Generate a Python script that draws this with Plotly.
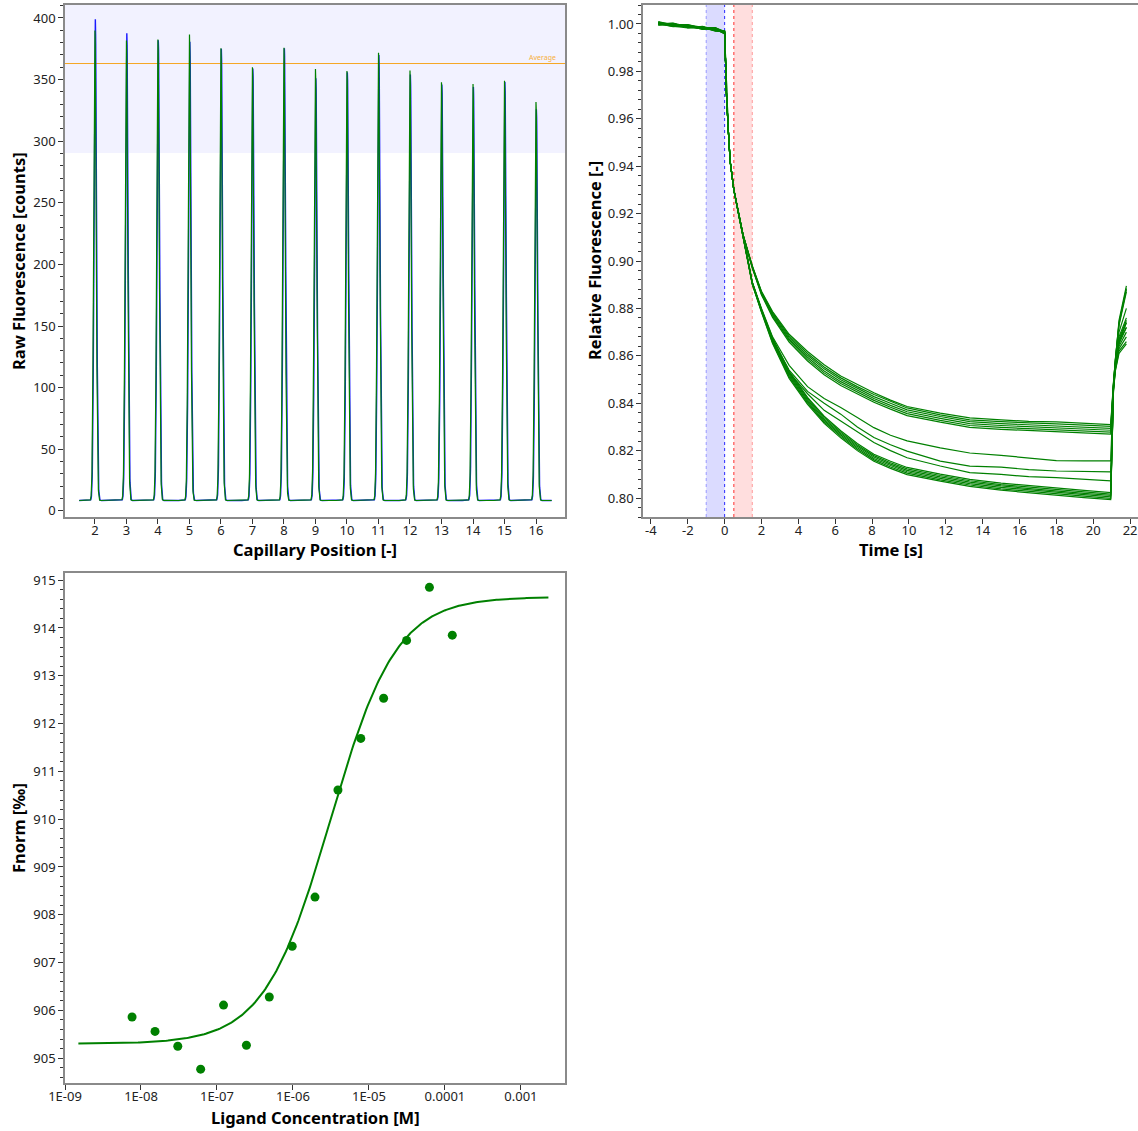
import numpy as np
import plotly.graph_objects as go

# ---------------- Panel 1: capillary scan ----------------
CAP_POSITIONS = [2, 3, 4, 5, 6, 7, 8, 9, 10, 11, 12, 13, 14, 15, 16]
PEAKS_GREEN = [390, 381.6, 382.7, 386.7, 375.4, 360, 376, 358.6, 357, 371.9, 357.3, 348, 346.4, 349, 331.8]
PEAKS_BLUE = [399, 387.5, 382, 380.8, 375, 359, 375.5, 351, 356, 370, 354, 346, 344, 348, 326]
BASELINE = 8.4
AVERAGE = 363
SCAN_START, SCAN_END = 1.5, 16.5

# ---------------- Panel 2: MST traces ----------------
PRE_TIMES = [-3.6, -2.8, -2.0, -1.2, -0.5, 0.0]
PRE_VALUES = [
    [1.0008, 0.9992, 0.9995, 0.9979, 0.9983, 0.9962],
    [0.9997, 1.0001, 0.9986, 0.9988, 0.9972, 0.9970],
    [1.0005, 0.9990, 0.9994, 0.9977, 0.9981, 0.9958],
    [0.9999, 1.0003, 0.9984, 0.9990, 0.9975, 0.9967],
    [1.0010, 0.9995, 0.9997, 0.9981, 0.9985, 0.9964],
    [0.9996, 0.9999, 0.9987, 0.9985, 0.9970, 0.9971],
    [1.0004, 0.9993, 0.9992, 0.9980, 0.9979, 0.9960],
    [1.0001, 1.0004, 0.9989, 0.9987, 0.9976, 0.9968],
    [0.9998, 0.9991, 0.9983, 0.9982, 0.9973, 0.9963],
    [1.0007, 0.9998, 0.9996, 0.9986, 0.9984, 0.9969],
    [1.0002, 0.9989, 0.9991, 0.9978, 0.9980, 0.9959],
    [0.9995, 1.0002, 0.9985, 0.9989, 0.9971, 0.9966],
    [1.0006, 0.9994, 0.9993, 0.9983, 0.9977, 0.9961],
    [1.0000, 0.9997, 0.9988, 0.9984, 0.9974, 0.9965],
    [1.0003, 1.0000, 0.9990, 0.9980, 0.9982, 0.9967],
]
DROP_TIMES = [0.05, 0.1, 0.2, 0.3, 0.5, 0.8, 1.0]
DROP_VALUES = [0.984, 0.970, 0.955, 0.942, 0.930, 0.918, 0.911]
TAIL_TIMES = [1.5, 2.0, 2.6, 3.5, 4.5, 5.4, 6.3, 7.2, 8.1, 9.0, 9.9, 11.7, 13.3, 15.0, 16.5, 18.0, 19.5, 20.95, 21.1, 21.2, 21.4, 21.8]
TAIL_VALUES = [
    [0.8980, 0.8872, 0.8787, 0.8691, 0.8618, 0.8562, 0.8515, 0.8478, 0.8444, 0.8413, 0.8386, 0.8358, 0.8338, 0.8330, 0.8323, 0.8321, 0.8316, 0.8310, 0.8490, 0.8590, 0.8750, 0.8895],
    [0.8978, 0.8869, 0.8782, 0.8684, 0.8610, 0.8553, 0.8507, 0.8470, 0.8437, 0.8407, 0.8380, 0.8351, 0.8330, 0.8322, 0.8316, 0.8313, 0.8308, 0.8302, 0.8485, 0.8585, 0.8740, 0.8885],
    [0.8976, 0.8866, 0.8777, 0.8678, 0.8602, 0.8545, 0.8499, 0.8463, 0.8428, 0.8400, 0.8372, 0.8344, 0.8322, 0.8314, 0.8309, 0.8306, 0.8300, 0.8294, 0.8482, 0.8582, 0.8735, 0.8880],
    [0.8974, 0.8863, 0.8772, 0.8671, 0.8594, 0.8536, 0.8491, 0.8456, 0.8420, 0.8391, 0.8364, 0.8336, 0.8314, 0.8306, 0.8301, 0.8298, 0.8292, 0.8286, 0.8478, 0.8578, 0.8728, 0.8870],
    [0.8972, 0.8860, 0.8767, 0.8665, 0.8586, 0.8528, 0.8483, 0.8448, 0.8412, 0.8383, 0.8356, 0.8328, 0.8306, 0.8298, 0.8293, 0.8290, 0.8284, 0.8278, 0.8475, 0.8560, 0.8680, 0.8760],
    [0.8970, 0.8857, 0.8762, 0.8658, 0.8578, 0.8520, 0.8475, 0.8440, 0.8404, 0.8375, 0.8348, 0.8320, 0.8298, 0.8290, 0.8285, 0.8282, 0.8276, 0.8270, 0.8472, 0.8555, 0.8670, 0.8750],
    [0.8912, 0.8800, 0.8680, 0.8560, 0.8470, 0.8420, 0.8382, 0.8340, 0.8297, 0.8265, 0.8241, 0.8212, 0.8190, 0.8180, 0.8168, 0.8158, 0.8157, 0.8157, 0.8480, 0.8570, 0.8700, 0.8800],
    [0.8910, 0.8790, 0.8670, 0.8540, 0.8450, 0.8400, 0.8354, 0.8300, 0.8255, 0.8225, 0.8198, 0.8156, 0.8135, 0.8130, 0.8120, 0.8114, 0.8112, 0.8110, 0.8470, 0.8560, 0.8660, 0.8740],
    [0.8909, 0.8790, 0.8670, 0.8530, 0.8440, 0.8370, 0.8325, 0.8280, 0.8234, 0.8200, 0.8170, 0.8135, 0.8107, 0.8100, 0.8090, 0.8086, 0.8080, 0.8072, 0.8470, 0.8560, 0.8660, 0.8720],
    [0.8908, 0.8796, 0.8676, 0.8534, 0.8425, 0.8345, 0.8284, 0.8230, 0.8185, 0.8155, 0.8129, 0.8101, 0.8079, 0.8063, 0.8052, 0.8044, 0.8032, 0.8023, 0.8465, 0.8560, 0.8660, 0.8740],
    [0.8907, 0.8794, 0.8671, 0.8528, 0.8419, 0.8339, 0.8278, 0.8224, 0.8179, 0.8149, 0.8123, 0.8095, 0.8073, 0.8057, 0.8046, 0.8038, 0.8026, 0.8017, 0.8462, 0.8555, 0.8650, 0.8720],
    [0.8906, 0.8791, 0.8666, 0.8523, 0.8413, 0.8333, 0.8272, 0.8218, 0.8173, 0.8143, 0.8117, 0.8089, 0.8067, 0.8051, 0.8040, 0.8032, 0.8020, 0.8011, 0.8460, 0.8550, 0.8640, 0.8700],
    [0.8904, 0.8789, 0.8661, 0.8517, 0.8407, 0.8327, 0.8266, 0.8212, 0.8167, 0.8137, 0.8111, 0.8083, 0.8061, 0.8045, 0.8034, 0.8026, 0.8014, 0.8005, 0.8458, 0.8545, 0.8630, 0.8680],
    [0.8903, 0.8786, 0.8656, 0.8511, 0.8401, 0.8321, 0.8260, 0.8206, 0.8161, 0.8131, 0.8105, 0.8077, 0.8055, 0.8039, 0.8028, 0.8020, 0.8008, 0.7999, 0.8455, 0.8540, 0.8620, 0.8660],
    [0.8902, 0.8784, 0.8652, 0.8505, 0.8395, 0.8315, 0.8254, 0.8200, 0.8155, 0.8125, 0.8099, 0.8071, 0.8049, 0.8033, 0.8022, 0.8014, 0.8002, 0.7993, 0.8452, 0.8535, 0.8610, 0.8650],
]
COLD_REGION = (-1.0, 0.0)
HOT_REGION = (0.5, 1.5)
TIME_TICKVALS = [-4, -2, 0, 2, 4, 6, 8, 10, 12, 14, 16, 18, 20, 22]
TIME_TICKTEXT = ["-4", "-2", "0", "2", "4", "6", "8", "10", "12", "14", "16", "18", "20", "22"]

# ---------------- Panel 3: dose response ----------------
LIGAND_CONC = [7.63e-9, 1.53e-8, 3.05e-8, 6.10e-8, 1.22e-7, 2.44e-7, 4.88e-7, 9.77e-7,
               1.95e-6, 3.91e-6, 7.81e-6, 1.56e-5, 3.13e-5, 6.25e-5, 1.25e-4]
FNORM = [905.86, 905.56, 905.25, 904.77, 906.11, 905.27, 906.28, 907.34,
         908.37, 910.61, 911.69, 912.53, 913.74, 914.85, 913.85]
FIT_UNBOUND = 905.3
FIT_BOUND = 914.65
FIT_KD = 3.1e-6
FIT_RANGE = (1.5e-9, 2.3e-3)

LOG_TICKVALS = [1e-9, 1e-8, 1e-7, 1e-6, 1e-5, 1e-4, 1e-3]
LOG_TICKTEXT = ["1E-09", "1E-08", "1E-07", "1E-06", "1E-05", "0.0001", "0.001"]

# ---------------- figure ----------------
W, H = 1138, 1131
FONT = "Noto Sans"
TICK_FONT = dict(family=FONT, size=13, color="#222")
TITLE_FONT = dict(family=FONT, size=16.5, color="#000")
GREEN = "#008000"

fig = go.Figure()

# panel 1 traces
xs = np.arange(SCAN_START, SCAN_END, 0.003)
def scan(heights, shift):
    y = np.full_like(xs, BASELINE)
    for p, h in zip(CAP_POSITIONS, heights):
        y += (h - BASELINE) * np.exp(-0.5 * ((xs - p - shift) / 0.04) ** 2)
    return y

fig.add_trace(go.Scatter(x=xs, y=scan(PEAKS_BLUE, 0.012), mode="lines",
                         line=dict(color="#1a1aff", width=1.4), xaxis="x", yaxis="y", showlegend=False))
fig.add_trace(go.Scatter(x=xs, y=scan(PEAKS_GREEN, 0.0), mode="lines",
                         line=dict(color=GREEN, width=1.2), xaxis="x", yaxis="y", showlegend=False))

# panel 2 traces
for pre, tail in zip(PRE_VALUES, TAIL_VALUES):
    t = PRE_TIMES + DROP_TIMES + TAIL_TIMES
    v = pre + DROP_VALUES + tail
    fig.add_trace(go.Scatter(x=t, y=v, mode="lines", line=dict(color=GREEN, width=1.2),
                             xaxis="x2", yaxis="y2", showlegend=False))

# panel 3
cfit = np.logspace(np.log10(FIT_RANGE[0]), np.log10(FIT_RANGE[1]), 300)
ffit = FIT_UNBOUND + (FIT_BOUND - FIT_UNBOUND) * cfit / (cfit + FIT_KD)
fig.add_trace(go.Scatter(x=cfit, y=ffit, mode="lines", line=dict(color=GREEN, width=2),
                         xaxis="x3", yaxis="y3", showlegend=False))
fig.add_trace(go.Scatter(x=LIGAND_CONC, y=FNORM, mode="markers",
                         marker=dict(color=GREEN, size=9), xaxis="x3", yaxis="y3", showlegend=False))

def px_x(p):
    return min(max(p / W, 0.0), 1.0)
def px_y(p):
    return min(max(1 - p / H, 0.0), 1.0)

AX_LINE = dict(showline=True, linecolor="#8a8a8a", linewidth=1.5, mirror=True,
               ticks="outside", ticklen=5, tickcolor="#333", tickfont=TICK_FONT,
               showgrid=False, zeroline=False, automargin=False)
X_LABEL = dict(ticklabelstandoff=-4)

Y1_RANGE = [-5, 410.5]
fig.update_layout(
    width=W, height=H, margin=dict(l=0, r=0, t=0, b=0),
    plot_bgcolor="white", paper_bgcolor="white",
    xaxis=dict(domain=[px_x(65), px_x(565)], anchor="y", range=[1.05, 16.92],
               tickvals=CAP_POSITIONS, **AX_LINE, **X_LABEL),
    yaxis=dict(domain=[px_y(517), px_y(5)], anchor="x", range=Y1_RANGE, dtick=50, tick0=0,
               minor=dict(dtick=10, ticklen=3, ticks="outside", tickcolor="#333"), **AX_LINE),
    xaxis2=dict(domain=[px_x(643), 1.0], anchor="y2", range=[-4.43, 22.43],
                tickvals=TIME_TICKVALS, ticktext=TIME_TICKTEXT, **AX_LINE, **X_LABEL),
    yaxis2=dict(domain=[px_y(517), px_y(5)], anchor="x2", range=[0.792, 1.008], dtick=0.02, tick0=0,
                tickformat=".2f",
                minor=dict(dtick=0.004, ticklen=3, ticks="outside", tickcolor="#333"), **AX_LINE),
    xaxis3=dict(domain=[px_x(65), px_x(565)], anchor="y3", type="log", range=[-9, -2.42],
                tickvals=LOG_TICKVALS, ticktext=LOG_TICKTEXT, **AX_LINE, **X_LABEL),
    yaxis3=dict(domain=[px_y(1083), px_y(573)], anchor="x3", range=[904.48, 915.15], dtick=1, tick0=0,
                minor=dict(dtick=0.2, ticklen=3, ticks="outside", tickcolor="#333"), **AX_LINE),
)

shapes = []
# panel 1: tolerance band and average line
shapes.append(dict(type="rect", xref="x domain", yref="y", x0=0, x1=1,
                   y0=AVERAGE * 0.8, y1=min(AVERAGE * 1.2, Y1_RANGE[1]),
                   fillcolor="rgba(0,0,255,0.05)", line=dict(width=0), layer="below"))
shapes.append(dict(type="line", xref="x domain", yref="y", x0=0, x1=1, y0=AVERAGE, y1=AVERAGE,
                   line=dict(color="#f5a623", width=1), layer="below"))
# panel 2: cold / hot regions
shapes.append(dict(type="rect", xref="x2", yref="y2 domain", x0=COLD_REGION[0], x1=COLD_REGION[1],
                   y0=0, y1=1, fillcolor="rgba(0,0,255,0.14)", line=dict(width=0), layer="below"))
shapes.append(dict(type="rect", xref="x2", yref="y2 domain", x0=HOT_REGION[0], x1=HOT_REGION[1],
                   y0=0, y1=1, fillcolor="rgba(255,0,0,0.13)", line=dict(width=0), layer="below"))
for xv, col in [(COLD_REGION[0], "#9a9aff"), (COLD_REGION[1], "#2a2aff"),
                (HOT_REGION[0], "#ff3030"), (HOT_REGION[1], "#ff9a9a")]:
    shapes.append(dict(type="line", xref="x2", yref="y2 domain", x0=xv, x1=xv, y0=0, y1=1,
                       line=dict(color=col, width=1, dash="dot"), layer="below"))
fig.update_layout(shapes=shapes)

ann = [
    dict(text="Average", xref="x domain", yref="y", x=0.985, y=AVERAGE, xanchor="right", yanchor="bottom",
         showarrow=False, font=dict(family=FONT, size=7, color="#f7b040")),
    dict(text="<b>Capillary Position [-]</b>", xref="paper", yref="paper", x=px_x(315), y=px_y(550),
         xanchor="center", yanchor="middle", showarrow=False, font=TITLE_FONT),
    dict(text="<b>Raw Fluorescence [counts]</b>", xref="paper", yref="paper", x=px_x(18), y=px_y(261),
         xanchor="center", yanchor="middle", textangle=-90, showarrow=False, font=TITLE_FONT),
    dict(text="<b>Time [s]</b>", xref="paper", yref="paper", x=px_x(891), y=px_y(550),
         xanchor="center", yanchor="middle", showarrow=False, font=TITLE_FONT),
    dict(text="<b>Relative Fluorescence [-]</b>", xref="paper", yref="paper", x=px_x(594), y=px_y(261),
         xanchor="center", yanchor="middle", textangle=-90, showarrow=False, font=TITLE_FONT),
    dict(text="<b>Ligand Concentration [M]</b>", xref="paper", yref="paper", x=px_x(315), y=px_y(1117),
         xanchor="center", yanchor="middle", showarrow=False, font=TITLE_FONT),
    dict(text="<b>Fnorm [‰]</b>", xref="paper", yref="paper", x=px_x(18), y=px_y(828),
         xanchor="center", yanchor="middle", textangle=-90, showarrow=False, font=TITLE_FONT),
]
fig.update_layout(annotations=ann)

fig.write_html("out.html", config={"displayModeBar": False},
               post_script="document.body.style.margin='0';document.body.style.overflow='hidden';")
